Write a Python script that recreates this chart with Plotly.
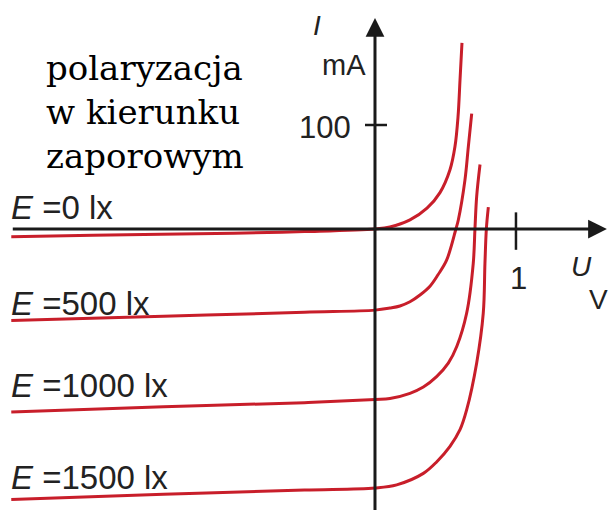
import plotly.graph_objects as go

# Photodiode I-U characteristics for several illuminance levels
illuminance = ["0", "500", "1000", "1500"]

u_e0 = [-2.58, -2.0, -1.0, -0.5, 0.0, 0.106, 0.248, 0.369, 0.461, 0.532, 0.567, 0.589, 0.603, 0.617]
i_e0 = [-7.5, -6.0, -4.0, -2.5, 0.0, 1.9, 8.7, 20.0, 35.0, 57.0, 79.0, 108.0, 143.0, 179.0]

u_e500 = [-2.58, -1.5, -0.5, 0.0, 0.106, 0.177, 0.248, 0.319, 0.39, 0.447, 0.508, 0.574, 0.591, 0.638, 0.662, 0.686]
i_e500 = [-88.0, -84.0, -80.0, -78.0, -76.0, -74.0, -70.0, -63.5, -55.0, -44.0, -30.0, 0.0, 8.7, 47.0, 79.0, 111.0]

u_e1000 = [-2.58, -1.5, -0.5, 0.0, 0.106, 0.248, 0.343, 0.437, 0.52, 0.58, 0.65, 0.697, 0.709, 0.721, 0.745]
i_e1000 = [-176.0, -171.0, -167.0, -164.0, -163.0, -158.0, -152.0, -142.0, -129.0, -113.0, -81.0, -33.0, 0.0, 31.0, 62.0]

u_e1500 = [-2.58, -1.5, -0.5, 0.0, 0.154, 0.343, 0.437, 0.532, 0.603, 0.65, 0.721, 0.768, 0.78, 0.79, 0.804]
i_e1500 = [-260.0, -255.0, -251.0, -249.0, -246.0, -235.0, -224.0, -209.0, -193.0, -174.0, -129.0, -81.0, -33.0, 0.0, 21.0]

series = [(u_e0, i_e0), (u_e500, i_e500), (u_e1000, i_e1000), (u_e1500, i_e1500)]

x_tick_value = 1
y_tick_value = 100

W, H = 610, 510
X_RANGE = [-2.66, 1.667]
Y_RANGE = [-270.2, 220.2]

RED = "rgb(200,30,42)"
INK = "#1a1a1a"
SANS = "Liberation Sans, Arial, sans-serif"
SERIF = "DejaVu Serif, serif"


def px(x):
    return x / W


def py(y):
    return 1 - y / H


fig = go.Figure()

for u, i in series:
    fig.add_trace(go.Scatter(
        x=u, y=i, mode="lines",
        line=dict(color=RED, width=3, shape="spline", smoothing=1.0),
        hoverinfo="skip", showlegend=False,
    ))

# axes drawn as arrows through the origin
fig.add_annotation(x=1.645, y=0, ax=-2.58, ay=0, xref="x", yref="y", axref="x", ayref="y",
                   showarrow=True, arrowhead=2, arrowsize=1.25, arrowwidth=3, arrowcolor=INK, text="")
fig.add_annotation(x=0, y=203, ax=0, ay=-272, xref="x", yref="y", axref="x", ayref="y",
                   showarrow=True, arrowhead=2, arrowsize=1.25, arrowwidth=3, arrowcolor=INK, text="")

# tick marks
fig.add_shape(type="line", x0=-0.071, x1=0.085, y0=y_tick_value, y1=y_tick_value,
              line=dict(color=INK, width=2.5))
fig.add_shape(type="line", x0=x_tick_value, x1=x_tick_value, y0=16, y1=-20,
              line=dict(color=INK, width=2.5))


def label(text, x, y, size=31, xanchor="left", family=SANS, color="#222"):
    fig.add_annotation(text=text, x=px(x), y=py(y), xref="paper", yref="paper",
                       xanchor=xanchor, yanchor="middle", showarrow=False,
                       font=dict(family=family, size=size, color=color))


label(str(y_tick_value), 353, 127, xanchor="right")
label(str(x_tick_value), 518, 278, xanchor="center")
label("mA", 344, 65, size=29, xanchor="center")
label("<i>I</i>", 317, 25, size=28, xanchor="center")
label("<i>U</i>", 581, 266, size=28, xanchor="center")
label("V", 598, 299, size=28, xanchor="center")

for name, yc in zip(illuminance, [207, 303, 385, 477]):
    label(f"<i>E</i> ={name} lx", 9, yc, size=33)

fig.add_annotation(text="polaryzacja<br>w kierunku<br>zaporowym", x=px(44), y=py(112),
                   xref="paper", yref="paper", xanchor="left", yanchor="middle", align="left",
                   showarrow=False, font=dict(family=SERIF, size=34, color="#000"))

fig.update_xaxes(range=X_RANGE, visible=False, fixedrange=True)
fig.update_yaxes(range=Y_RANGE, visible=False, fixedrange=True)
fig.update_layout(width=W, height=H, margin=dict(l=0, r=0, t=0, b=0),
                  paper_bgcolor="white", plot_bgcolor="white")

fig.write_html("out.html")
